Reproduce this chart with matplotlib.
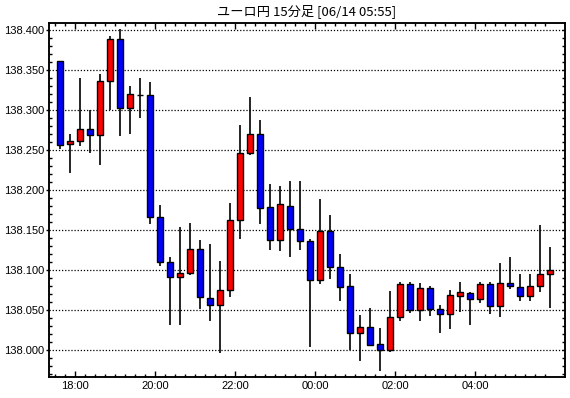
import numpy as np
import matplotlib
matplotlib.use("Agg")
import matplotlib.pyplot as plt
from matplotlib.ticker import FixedLocator, FormatStrFormatter

# 15-minute EUR/JPY bars, first bar 17:30, last bar 05:45
opens = [138.361, 138.258, 138.261, 138.276, 138.269, 138.336, 138.389, 138.303, 138.319, 138.319,
         138.166, 138.110, 138.092, 138.096, 138.127, 138.065, 138.056, 138.075, 138.1625, 138.246,
         138.270, 138.179, 138.1375, 138.180, 138.151, 138.136, 138.088, 138.149, 138.104, 138.080,
         138.021, 138.029, 138.0075, 138.000, 138.041, 138.0825, 138.050, 138.0775, 138.051, 138.045,
         138.068, 138.071, 138.064, 138.0825, 138.055, 138.084, 138.079, 138.0675, 138.080, 138.095]
highs = [138.361, 138.270, 138.340, 138.300, 138.345, 138.393, 138.401, 138.330, 138.340, 138.335,
         138.182, 138.116, 138.154, 138.159, 138.138, 138.133, 138.112, 138.184, 138.281, 138.316,
         138.288, 138.208, 138.205, 138.212, 138.212, 138.1395, 138.189, 138.169, 138.120, 138.095,
         138.044, 138.0525, 138.0275, 138.074, 138.085, 138.085, 138.084, 138.080, 138.057, 138.075,
         138.085, 138.0725, 138.085, 138.085, 138.109, 138.117, 138.095, 138.095, 138.157, 138.129]
lows = [138.251, 138.222, 138.255, 138.247, 138.232, 138.300, 138.268, 138.270, 138.290, 138.158,
        138.105, 138.032, 138.031, 138.094, 138.051, 138.036, 137.996, 138.066, 138.1395, 138.244,
        138.158, 138.125, 138.1245, 138.116, 138.125, 138.0045, 138.083, 138.089, 138.061, 138.000,
        137.987, 138.006, 137.974, 137.9975, 138.037, 138.046, 138.037, 138.043, 138.021, 138.026,
        138.048, 138.031, 138.059, 138.045, 138.041, 138.077, 138.062, 138.061, 138.0725, 138.053]
closes = [138.257, 138.261, 138.276, 138.269, 138.336, 138.389, 138.303, 138.320, 138.319, 138.166,
          138.110, 138.092, 138.096, 138.127, 138.066, 138.056, 138.075, 138.1625, 138.246, 138.270,
          138.178, 138.1375, 138.1825, 138.151, 138.136, 138.0875, 138.149, 138.104, 138.0795, 138.021,
          138.029, 138.007, 138.000, 138.041, 138.0825, 138.050, 138.0775, 138.051, 138.045, 138.069,
          138.0725, 138.064, 138.0825, 138.055, 138.084, 138.080, 138.0675, 138.080, 138.095, 138.100]

time_labels = ["18:00", "20:00", "22:00", "00:00", "02:00", "04:00"]
title = "ユーロ円 15分足 [06/14 05:55]"

o = np.array(opens)
h = np.array(highs)
l = np.array(lows)
c = np.array(closes)
x = np.arange(len(o))

fig = plt.figure(figsize=(5.70, 3.98), dpi=100)
ax = fig.add_axes([0.0865, 0.052, 0.9042, 0.891])

# wicks then bodies
ax.vlines(x, l, h, color="black", linewidth=1.2, zorder=2)
colors = np.where(c > o, "#ff0000", np.where(c < o, "#0000ff", "black"))
bottoms = np.minimum(o, c)
heights = np.abs(c - o)
ax.bar(x, heights, width=0.6, bottom=bottoms, color=colors,
       edgecolor="black", linewidth=1.0, zorder=3)

ax.set_xlim(-1.1, 50.44)
ax.set_ylim(137.966, 138.4095)

ax.xaxis.set_major_locator(FixedLocator(1.5 + 8 * np.arange(len(time_labels))))
ax.set_xticklabels(time_labels)
ax.xaxis.set_minor_locator(FixedLocator(np.arange(-0.5, 49, 1.0)))
ax.tick_params(axis="x", which="major", direction="in", length=4.5, width=1,
               top=True, bottom=True, pad=3)
ax.tick_params(axis="x", which="minor", direction="in", length=2.2, width=1,
               top=True, bottom=True)

ax.yaxis.set_major_locator(FixedLocator(np.arange(138.0, 138.401, 0.05)))
ax.yaxis.set_minor_locator(FixedLocator(np.arange(137.97, 138.401, 0.01)))
ax.yaxis.set_major_formatter(FormatStrFormatter("%.3f"))
ax.tick_params(axis="y", which="major", direction="out", length=2.5, width=1, pad=1)
ax.tick_params(axis="y", which="minor", direction="in", length=2.2, width=1)

for lab in ax.get_xticklabels() + ax.get_yticklabels():
    lab.set_fontfamily("Liberation Sans")
    lab.set_fontsize(8)

ax.grid(True, axis="y", which="major", color="black", linestyle=(0, (1, 1.5)), linewidth=0.9)
ax.set_axisbelow(True)

ax2 = ax.twinx()
ax2.set_ylim(ax.get_ylim())
ax2.yaxis.set_major_locator(FixedLocator(np.arange(138.0, 138.401, 0.05)))
ax2.yaxis.set_minor_locator(FixedLocator(np.arange(137.97, 138.401, 0.01)))
ax2.tick_params(axis="y", which="both", direction="in", length=2.2, width=1, labelright=False)

for a in (ax, ax2):
    for sp in a.spines.values():
        sp.set_linewidth(1.1)
        sp.set_color("black")

fig.text(0.537, 0.972, title, ha="center", va="center", fontsize=9.5,
         family=["Noto Sans CJK JP", "DejaVu Sans"])

fig.savefig("out.png", dpi=100)
